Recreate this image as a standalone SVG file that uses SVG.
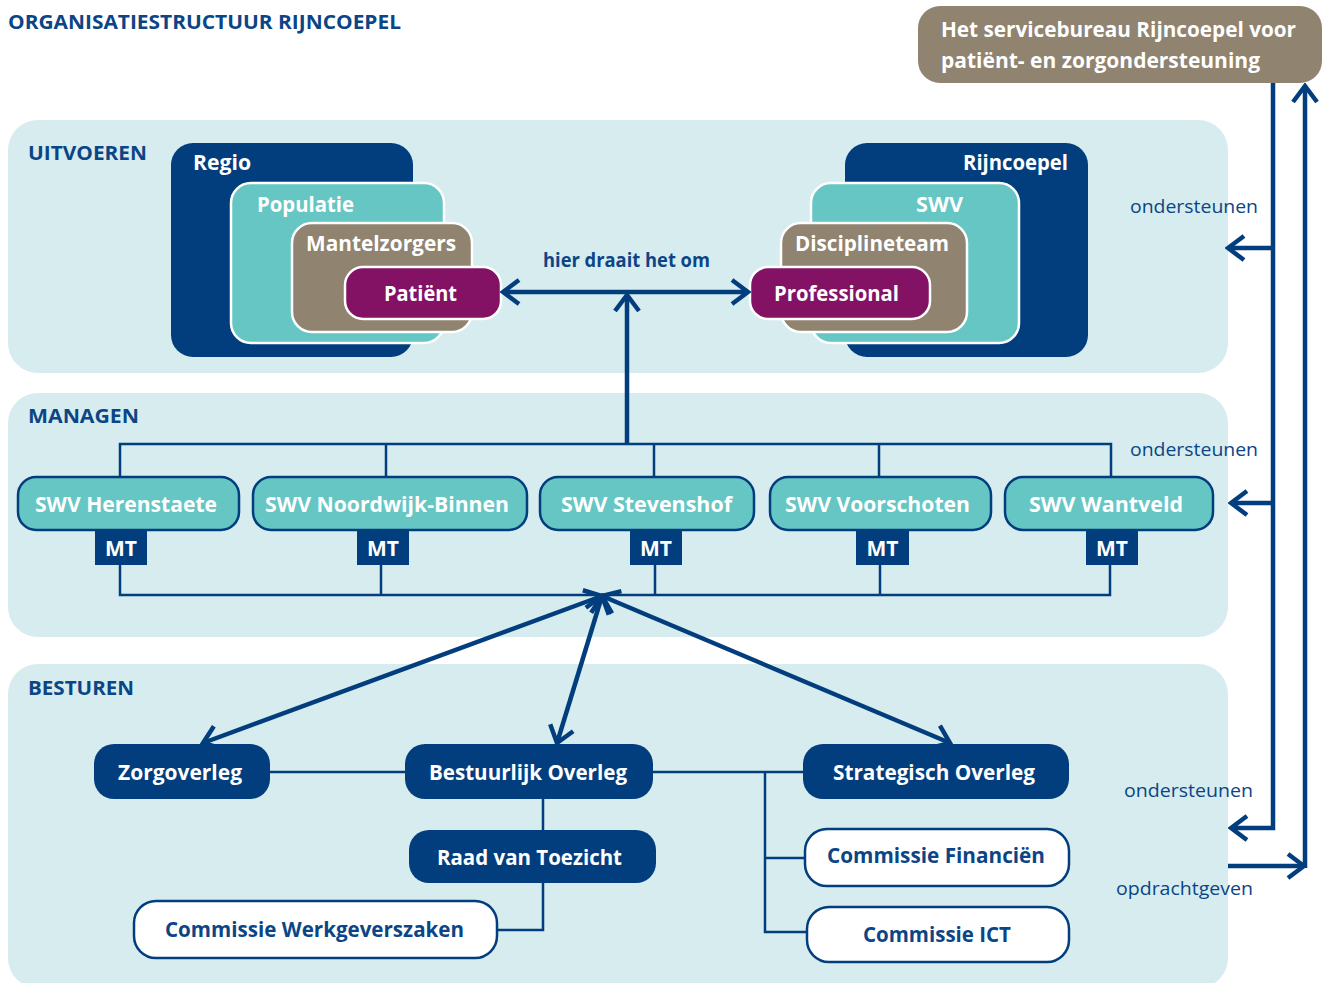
<svg xmlns="http://www.w3.org/2000/svg" width="1323" height="983" viewBox="0 0 1323 983">
<defs>
<style>
.panel{fill:#d7ecee}
.t{font-family:"Open Sans",Lato,"Liberation Sans",sans-serif;font-weight:700}
.w{fill:#ffffff}
.b{fill:#0b4586}
.lbl{font-family:"Open Sans",Lato,"Liberation Sans",sans-serif;font-weight:400;font-size:19px;fill:#0b4586}
.dk{fill:#023e7d}
.teal{fill:#66c6c3}
.taupe{fill:#908370}
.purple{fill:#841264}
.wb{stroke:#ffffff;stroke-width:2.5}
.swv{fill:#66c6c3;stroke:#023e7d;stroke-width:2.5}
.com{fill:#ffffff;stroke:#023e7d;stroke-width:2.5}
.thin{fill:none;stroke:#023e7d;stroke-width:2.5}
.thick{fill:none;stroke:#023e7d;stroke-width:4.5}
</style>
<marker id="ah" viewBox="0 0 22 28" refX="19" refY="14" markerWidth="22" markerHeight="28" markerUnits="userSpaceOnUse" orient="auto-start-reverse">
<path d="M3,2 L19,14 L3,26" fill="none" stroke="#023e7d" stroke-width="4.5"/>
</marker>
</defs>
<rect width="1323" height="983" fill="#ffffff"/>

<text class="t b" x="8" y="29" font-size="20" textLength="393" lengthAdjust="spacingAndGlyphs">ORGANISATIESTRUCTUUR RIJNCOEPEL</text>

<g id="panels">
<rect class="panel" x="8" y="120" width="1220" height="253" rx="30"/>
<rect class="panel" x="8" y="393" width="1220" height="244" rx="30"/>
<rect class="panel" x="8" y="664" width="1220" height="324" rx="30"/>
<text class="t b" x="28" y="160" font-size="20" textLength="119" lengthAdjust="spacingAndGlyphs">UITVOEREN</text>
<text class="t b" x="28" y="423" font-size="20" textLength="111" lengthAdjust="spacingAndGlyphs">MANAGEN</text>
<text class="t b" x="28" y="695" font-size="20" textLength="106" lengthAdjust="spacingAndGlyphs">BESTUREN</text>
</g>

<g id="servicebureau">
<rect x="918" y="6" width="404" height="77" rx="22" fill="#908370"/>
<text class="t w" x="941" y="37" font-size="21.5" textLength="355" lengthAdjust="spacingAndGlyphs">Het servicebureau Rijncoepel voor</text>
<text class="t w" x="941" y="68" font-size="21.5" textLength="319" lengthAdjust="spacingAndGlyphs">patiënt- en zorgondersteuning</text>
</g>

<g id="regio">
<rect class="dk" x="171" y="143" width="242" height="214" rx="22"/>
<text class="t w" x="193" y="170" font-size="21" textLength="58" lengthAdjust="spacingAndGlyphs">Regio</text>
</g>
<g id="populatie">
<rect class="teal wb" x="231" y="183" width="213" height="160" rx="20"/>
<text class="t w" x="257" y="212" font-size="21" textLength="97" lengthAdjust="spacingAndGlyphs">Populatie</text>
</g>
<g id="mantelzorgers">
<rect class="taupe wb" x="292" y="223" width="180" height="109" rx="20"/>
<text class="t w" x="306" y="251" font-size="21" textLength="150" lengthAdjust="spacingAndGlyphs">Mantelzorgers</text>
</g>
<g id="patient">
<rect class="purple wb" x="345" y="267" width="156" height="52" rx="18"/>
<text class="t w" x="384" y="301" font-size="21" textLength="73" lengthAdjust="spacingAndGlyphs">Patiënt</text>
</g>

<g id="rijncoepel">
<rect class="dk" x="845" y="143" width="243" height="214" rx="22"/>
<text class="t w" x="963" y="170" font-size="21" textLength="105" lengthAdjust="spacingAndGlyphs">Rijncoepel</text>
</g>
<g id="swv">
<rect class="teal wb" x="811" y="183" width="208" height="160" rx="20"/>
<text class="t w" x="916" y="212" font-size="21" textLength="47" lengthAdjust="spacingAndGlyphs">SWV</text>
</g>
<g id="disciplineteam">
<rect class="taupe wb" x="781" y="223" width="186" height="109" rx="20"/>
<text class="t w" x="795" y="251" font-size="21" textLength="154" lengthAdjust="spacingAndGlyphs">Disciplineteam</text>
</g>
<g id="professional">
<rect class="purple wb" x="750" y="267" width="180" height="52" rx="18"/>
<text class="t w" x="774" y="301" font-size="21" textLength="125" lengthAdjust="spacingAndGlyphs">Professional</text>
</g>

<g id="connectors">
<line class="thick" x1="503" y1="292" x2="748" y2="292" marker-start="url(#ah)" marker-end="url(#ah)"/>
<line class="thick" x1="627" y1="444" x2="627" y2="295" marker-end="url(#ah)"/>
<path class="thin" d="M120,477 V444 H1111 V477 M386,444 V477 M654,444 V477 M879,444 V477"/>
<path class="thin" d="M120,565 V595 H1110 V565 M381,565 V595 M655,565 V595 M880,565 V595"/>
<line class="thick" x1="602" y1="596" x2="203" y2="743" marker-start="url(#ah)" marker-end="url(#ah)"/>
<line class="thick" x1="602" y1="596" x2="557" y2="743" marker-start="url(#ah)" marker-end="url(#ah)"/>
<line class="thick" x1="602" y1="596" x2="950" y2="743" marker-start="url(#ah)" marker-end="url(#ah)"/>
<path class="thin" d="M270,772 H405 M653,772 H803 M765,772 V932 H807 M765,858 H805 M543,799 V830 M543,883 V930 H497"/>
<path class="thick" d="M1273,83 V828 H1231" marker-end="url(#ah)"/>
<line class="thick" x1="1273" y1="248" x2="1228" y2="248" marker-end="url(#ah)"/>
<line class="thick" x1="1273" y1="503" x2="1231" y2="503" marker-end="url(#ah)"/>
<line class="thick" x1="1228" y1="866" x2="1304" y2="866" marker-end="url(#ah)"/>
<line class="thick" x1="1305" y1="868" x2="1305" y2="86" marker-end="url(#ah)"/>
<text class="t b" x="543" y="267" font-size="20" textLength="167" lengthAdjust="spacingAndGlyphs">hier draait het om</text>
<text class="lbl" x="1130" y="213" textLength="128" lengthAdjust="spacingAndGlyphs">ondersteunen</text>
<text class="lbl" x="1130" y="456" textLength="128" lengthAdjust="spacingAndGlyphs">ondersteunen</text>
<text class="lbl" x="1124" y="797" textLength="129" lengthAdjust="spacingAndGlyphs">ondersteunen</text>
<text class="lbl" x="1116" y="895" textLength="137" lengthAdjust="spacingAndGlyphs">opdrachtgeven</text>
</g>

<g id="swv-herenstaete">
<rect class="swv" x="18" y="477" width="221" height="53" rx="18"/>
<text class="t w" x="35" y="512" font-size="22" textLength="182" lengthAdjust="spacingAndGlyphs">SWV Herenstaete</text>
<rect class="dk" x="95" y="530" width="52" height="35"/>
<text class="t w" x="121" y="556" font-size="21" text-anchor="middle" textLength="32" lengthAdjust="spacingAndGlyphs">MT</text>
</g>
<g id="swv-noordwijk">
<rect class="swv" x="253" y="477" width="274" height="53" rx="18"/>
<text class="t w" x="265" y="512" font-size="22" textLength="244" lengthAdjust="spacingAndGlyphs">SWV Noordwijk-Binnen</text>
<rect class="dk" x="357" y="530" width="52" height="35"/>
<text class="t w" x="383" y="556" font-size="21" text-anchor="middle" textLength="32" lengthAdjust="spacingAndGlyphs">MT</text>
</g>
<g id="swv-stevenshof">
<rect class="swv" x="540" y="477" width="214" height="53" rx="18"/>
<text class="t w" x="561" y="512" font-size="22" textLength="171" lengthAdjust="spacingAndGlyphs">SWV Stevenshof</text>
<rect class="dk" x="630" y="530" width="52" height="35"/>
<text class="t w" x="656" y="556" font-size="21" text-anchor="middle" textLength="32" lengthAdjust="spacingAndGlyphs">MT</text>
</g>
<g id="swv-voorschoten">
<rect class="swv" x="770" y="477" width="221" height="53" rx="18"/>
<text class="t w" x="785" y="512" font-size="22" textLength="185" lengthAdjust="spacingAndGlyphs">SWV Voorschoten</text>
<rect class="dk" x="856" y="530" width="53" height="35"/>
<text class="t w" x="882.5" y="556" font-size="21" text-anchor="middle" textLength="32" lengthAdjust="spacingAndGlyphs">MT</text>
</g>
<g id="swv-wantveld">
<rect class="swv" x="1005" y="477" width="208" height="53" rx="18"/>
<text class="t w" x="1029" y="512" font-size="22" textLength="154" lengthAdjust="spacingAndGlyphs">SWV Wantveld</text>
<rect class="dk" x="1086" y="530" width="52" height="35"/>
<text class="t w" x="1112" y="556" font-size="21" text-anchor="middle" textLength="32" lengthAdjust="spacingAndGlyphs">MT</text>
</g>

<g id="zorgoverleg">
<rect class="dk" x="94" y="744" width="176" height="55" rx="20"/>
<text class="t w" x="118" y="780" font-size="21" textLength="124" lengthAdjust="spacingAndGlyphs">Zorgoverleg</text>
</g>
<g id="bestuurlijk-overleg">
<rect class="dk" x="405" y="744" width="248" height="55" rx="20"/>
<text class="t w" x="429" y="780" font-size="21" textLength="198" lengthAdjust="spacingAndGlyphs">Bestuurlijk Overleg</text>
</g>
<g id="strategisch-overleg">
<rect class="dk" x="803" y="744" width="266" height="55" rx="20"/>
<text class="t w" x="833" y="780" font-size="21" textLength="202" lengthAdjust="spacingAndGlyphs">Strategisch Overleg</text>
</g>
<g id="raad-van-toezicht">
<rect class="dk" x="409" y="830" width="247" height="53" rx="20"/>
<text class="t w" x="437" y="865" font-size="21" textLength="185" lengthAdjust="spacingAndGlyphs">Raad van Toezicht</text>
</g>
<g id="commissie-werkgeverszaken">
<rect class="com" x="134" y="901" width="363" height="57" rx="22"/>
<text class="t b" x="165" y="937" font-size="21" textLength="299" lengthAdjust="spacingAndGlyphs">Commissie Werkgeverszaken</text>
</g>
<g id="commissie-financien">
<rect class="com" x="805" y="829" width="264" height="57" rx="22"/>
<text class="t b" x="827" y="863" font-size="21" textLength="218" lengthAdjust="spacingAndGlyphs">Commissie Financiën</text>
</g>
<g id="commissie-ict">
<rect class="com" x="807" y="907" width="262" height="55" rx="22"/>
<text class="t b" x="863" y="942" font-size="21" textLength="148" lengthAdjust="spacingAndGlyphs">Commissie ICT</text>
</g>
</svg>
